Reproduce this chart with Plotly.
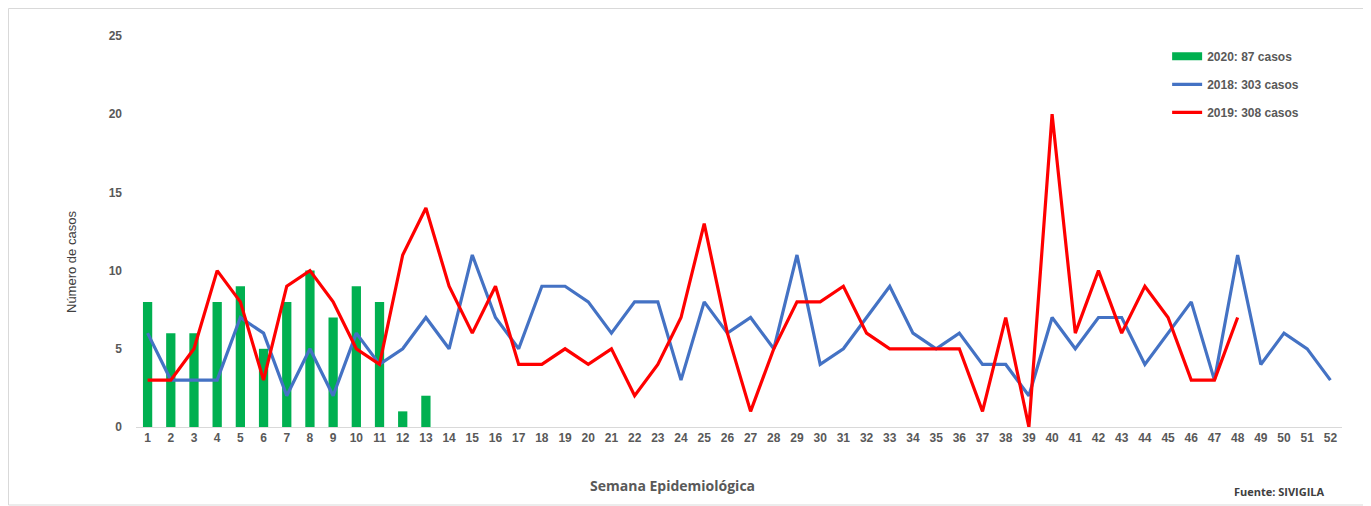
import plotly.graph_objects as go

weeks = list(range(1, 53))
week_labels = [str(w) for w in weeks]

cases_2020 = [8, 6, 6, 8, 9, 5, 8, 10, 7, 9, 8, 1, 2]
cases_2018 = [6, 3, 3, 3, 7, 6, 2, 5, 2, 6, 4, 5, 7, 5, 11, 7, 5, 9, 9, 8, 6, 8, 8, 3, 8, 6,
              7, 5, 11, 4, 5, 7, 9, 6, 5, 6, 4, 4, 2, 7, 5, 7, 7, 4, 6, 8, 3, 11, 4, 6, 5, 3]
cases_2019 = [3, 3, 5, 10, 8, 3, 9, 10, 8, 5, 4, 11, 14, 9, 6, 9, 4, 4, 5, 4, 5, 2, 4, 7, 13, 6,
              1, 5, 8, 8, 9, 6, 5, 5, 5, 5, 1, 7, 0, 20, 6, 10, 6, 9, 7, 3, 3, 7]

names = ["2020: 87 casos", "2018: 303 casos", "2019: 308 casos"]
y_ticks = [0, 5, 10, 15, 20, 25]

FONT = "Liberation Sans, Arial, sans-serif"
tick_font = dict(family=FONT, size=12, color="#595959")

fig = go.Figure()
fig.add_trace(go.Bar(x=weeks[:len(cases_2020)], y=cases_2020, name="<b>%s</b>" % names[0],
                     marker=dict(color="#00B050", line=dict(width=0)), width=0.4,
                     legendgroup="a", showlegend=False))
# legend-only entry so the 2020 key is drawn as a wide green block, as in the reference
fig.add_trace(go.Scatter(x=[None], y=[None], name="<b>%s</b>" % names[0], mode="lines",
                         line=dict(color="#00B050", width=8), legendgroup="a"))
fig.add_trace(go.Scatter(x=weeks[:len(cases_2018)], y=cases_2018, name="<b>%s</b>" % names[1],
                         mode="lines", line=dict(color="#4472C4", width=3.2), legendgroup="b"))
fig.add_trace(go.Scatter(x=weeks[:len(cases_2019)], y=cases_2019, name="<b>%s</b>" % names[2],
                         mode="lines", line=dict(color="#FF0000", width=3.2), legendgroup="c"))

# page body has an 8px offset; plot area placed so it appears at x 136-1342, y 36-427 on screen
L, T, PW, PH = 128, 28, 1206, 391
fig.update_layout(
    width=1371, height=506,
    margin=dict(l=L, r=1371 - L - PW, t=T, b=506 - T - PH),
    paper_bgcolor="white", plot_bgcolor="white",
    showlegend=True,
    legend=dict(x=0.855, y=0.985, xanchor="left", yanchor="top",
                font=dict(family=FONT, size=12, color="#595959"),
                tracegroupgap=9, bgcolor="rgba(0,0,0,0)"),
    xaxis=dict(range=[0.5, 52.5], tickmode="array", tickvals=weeks,
               ticktext=["<b>%s</b>" % t for t in week_labels],
               showgrid=False, showline=True, linecolor="#D9D9D9", linewidth=1,
               ticks="", tickfont=tick_font, zeroline=False),
    yaxis=dict(range=[0, 25], tickmode="array", tickvals=y_ticks,
               ticktext=["<b>%d</b>" % v for v in y_ticks],
               showgrid=False, showline=False, zeroline=False, ticks="",
               ticklabelstandoff=13, tickfont=tick_font),
    bargap=0.6,
)

fig.add_annotation(text="Número de casos", xref="paper", yref="paper",
                   x=(72 - 136) / PW, y=(427 - 262) / PH, textangle=-90,
                   showarrow=False, xanchor="center", yanchor="middle",
                   font=dict(family="Liberation Sans Narrow, Liberation Sans, Arial", size=13,
                             color="#404040"))
fig.add_annotation(text="<b>Semana Epidemiológica</b>", xref="paper", yref="paper",
                   x=(672 - 136) / PW, y=(427 - 485) / PH, showarrow=False,
                   xanchor="center", yanchor="middle",
                   font=dict(family="Open Sans, sans-serif", size=14, color="#595959"))
fig.add_annotation(text="<b>Fuente: SIVIGILA</b>", xref="paper", yref="paper",
                   x=(1279 - 136) / PW, y=(427 - 491) / PH, showarrow=False,
                   xanchor="center", yanchor="middle",
                   font=dict(family="Open Sans, sans-serif", size=11, color="#404040"))

fig.add_shape(type="rect", xref="paper", yref="paper",
              x0=(8.5 - 136) / PW, x1=(1368 - 136) / PW,
              y0=(427 - 505) / PH, y1=(427 - 8.5) / PH,
              line=dict(color="#D9D9D9", width=1), fillcolor="rgba(0,0,0,0)", layer="below")

fig.write_html("out.html")
